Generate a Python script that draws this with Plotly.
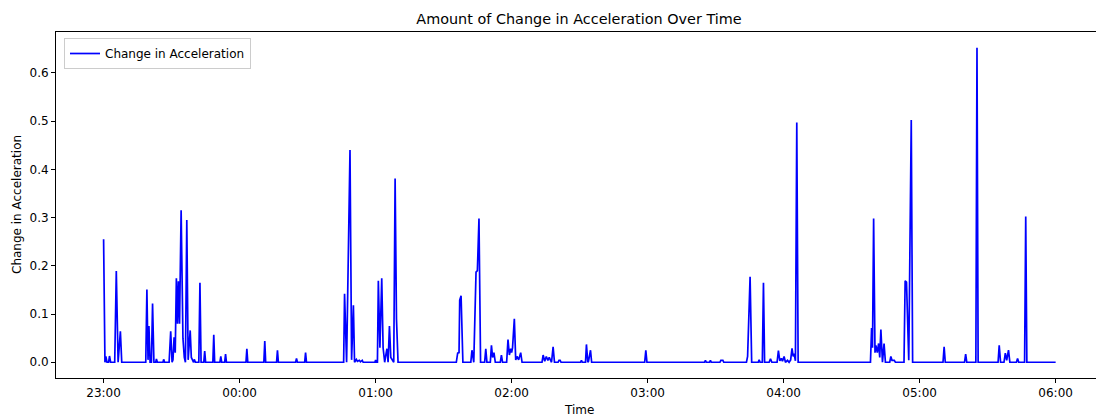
import pandas as pd
import plotly.graph_objects as go

# Minutes after 23:00 (start of recording) and the change in acceleration
minutes = [
    0.0, 0.6, 1.0, 1.5, 2.2, 2.6, 3.1, 4.9, 5.6, 6.4, 7.4, 8.0,
    18.6, 19.1, 19.6, 20.0, 20.5, 21.1, 21.6, 22.2, 23.0, 23.3, 23.7, 26.2, 26.5, 26.9,
    28.9, 29.6, 30.2, 30.6, 31.1, 31.6, 32.1, 32.6, 33.0, 33.5, 34.2, 35.0, 35.6, 36.1,
    36.7, 37.3, 38.2, 38.7, 39.2, 39.7, 40.0, 40.5,
    42.0, 42.5, 43.0, 44.2, 44.6, 45.0, 48.2, 48.6, 49.0, 51.3, 51.7, 52.1, 53.4, 53.8, 54.2,
    62.8, 63.2, 63.6,
    70.7, 71.1, 71.5, 76.3, 76.7, 77.1, 84.7, 85.1, 85.5, 88.7, 89.1, 89.5,
    105.9, 106.3, 107.2, 108.7, 109.4, 110.2, 110.7, 111.5, 112.0, 112.8, 113.3, 114.1, 114.5,
    119.7, 120.0, 120.3, 120.8, 121.2, 121.9, 122.7, 123.3, 124.0, 124.5, 125.0, 125.5,
    126.1, 126.7, 127.3, 128.0, 128.6, 129.2, 129.9,
    155.6, 156.2, 156.8, 157.1, 157.7, 158.5, 162.0, 162.5, 163.3, 164.3, 164.9, 165.6, 166.3,
    168.1, 168.6, 169.1, 170.6, 171.1, 171.6, 172.2, 172.8, 175.0, 175.5, 176.0,
    177.8, 178.4, 179.0, 179.6, 180.0, 180.4, 181.2, 181.8, 182.4, 183.1, 184.0, 184.6,
    193.4, 193.9, 194.6, 195.3, 196.0, 196.6, 197.6, 198.3, 198.9, 200.5, 200.9, 201.4, 201.8,
    210.4, 210.8, 211.2, 212.6, 213.0, 213.6, 213.9, 214.8, 215.3,
    238.7, 239.2, 239.7,
    265.1, 265.5, 265.9, 267.3, 267.7, 268.1, 271.9, 272.3, 273.2, 273.6,
    283.6, 284.1, 285.2, 285.9, 288.8, 289.2, 289.6, 290.6, 291.1, 291.6, 293.6, 294.2, 294.8,
    297.1, 297.7, 298.3, 299.0, 299.5, 300.2, 300.8, 301.7, 302.4, 303.1, 303.7, 304.2, 304.6,
    305.2, 305.8, 306.4,
    338.3, 338.8, 339.2, 339.7, 340.3, 340.7, 341.3, 341.9, 342.4, 342.9, 343.6, 344.3, 344.9,
    346.8, 347.3, 347.8, 348.8, 349.3,
    353.1, 353.6, 354.2, 355.2, 356.3, 356.9,
    370.3, 370.8, 371.3, 379.8, 380.3, 380.8, 384.8, 385.3, 385.8,
    394.6, 395.1, 395.7, 397.2, 397.8, 398.4, 399.2, 399.8, 402.7, 403.2, 403.7,
    406.3, 406.8, 407.3, 420.0,
]
change = [
    0.255, 0.0, 0.012, 0.0, 0.0, 0.013, 0.0, 0.0, 0.189, 0.0, 0.064, 0.0,
    0.0, 0.151, 0.005, 0.075, 0.0, 0.0, 0.122, 0.0, 0.0, 0.007, 0.0, 0.0, 0.006, 0.0,
    0.0, 0.064, 0.0, 0.005, 0.052, 0.02, 0.174, 0.08, 0.168, 0.08, 0.315, 0.05, 0.01, 0.0,
    0.295, 0.005, 0.066, 0.01, 0.005, 0.0, 0.006, 0.0,
    0.0, 0.165, 0.0, 0.0, 0.023, 0.0, 0.0, 0.057, 0.0, 0.0, 0.012, 0.0, 0.0, 0.017, 0.0,
    0.0, 0.028, 0.0,
    0.0, 0.044, 0.0, 0.0, 0.025, 0.0, 0.0, 0.008, 0.0, 0.0, 0.020, 0.0,
    0.0, 0.142, 0.0, 0.44, 0.005, 0.118, 0.0, 0.006, 0.002, 0.004, 0.001, 0.004, 0.0,
    0.0, 0.005, 0.0, 0.0, 0.169, 0.03, 0.174, 0.03, 0.0, 0.015, 0.028, 0.0,
    0.075, 0.01, 0.005, 0.0, 0.381, 0.09, 0.0,
    0.0, 0.019, 0.02, 0.129, 0.138, 0.0, 0.0, 0.025, 0.0, 0.187, 0.19, 0.298, 0.0,
    0.0, 0.028, 0.0, 0.0, 0.035, 0.01, 0.02, 0.0, 0.0, 0.015, 0.0,
    0.0, 0.047, 0.015, 0.028, 0.02, 0.03, 0.09, 0.005, 0.012, 0.005, 0.02, 0.0,
    0.0, 0.015, 0.002, 0.012, 0.004, 0.01, 0.0, 0.032, 0.0, 0.0, 0.004, 0.004, 0.0,
    0.0, 0.004, 0.0, 0.0, 0.037, 0.0, 0.002, 0.025, 0.0,
    0.0, 0.025, 0.0,
    0.0, 0.004, 0.0, 0.0, 0.004, 0.0, 0.0, 0.004, 0.004, 0.0,
    0.0, 0.012, 0.177, 0.0, 0.0, 0.005, 0.0, 0.0, 0.165, 0.0, 0.0, 0.007, 0.0,
    0.0, 0.024, 0.003, 0.008, 0.002, 0.012, 0.0, 0.004, 0.0, 0.005, 0.029, 0.012, 0.018,
    0.003, 0.497, 0.0,
    0.0, 0.071, 0.03, 0.298, 0.02, 0.035, 0.02, 0.039, 0.01, 0.068, 0.0, 0.039, 0.0,
    0.0, 0.012, 0.004, 0.004, 0.0,
    0.0, 0.169, 0.166, 0.004, 0.502, 0.0,
    0.0, 0.032, 0.0, 0.0, 0.017, 0.0, 0.0, 0.652, 0.0,
    0.0, 0.035, 0.0, 0.0, 0.019, 0.004, 0.025, 0.0, 0.0, 0.008, 0.0,
    0.0, 0.302, 0.0, 0.0,
]

start = pd.Timestamp("2024-01-01 23:00:00")
times = [start + pd.Timedelta(minutes=m) for m in minutes]
tick_vals = [start + pd.Timedelta(hours=h) for h in range(8)]
tick_text = ["23:00", "00:00", "01:00", "02:00", "03:00", "04:00", "05:00", "06:00"]
y_ticks = [0.0, 0.1, 0.2, 0.3, 0.4, 0.5, 0.6]

W, H = 1096, 416
L, R, T, B = 56, 0, 32, 38
font = "DejaVu Sans, Arial, sans-serif"

fig = go.Figure()
fig.add_trace(go.Scatter(
    x=times, y=change, mode="lines", name="Change in Acceleration",
    line=dict(color="#0000ff", width=1.7),
))

x0 = start - pd.Timedelta(minutes=21)
x1 = start + pd.Timedelta(minutes=437.8)

fig.update_layout(
    width=W, height=H,
    margin=dict(l=L, r=R, t=T, b=B),
    paper_bgcolor="white", plot_bgcolor="white",
    font=dict(family=font, size=12, color="#000000"),
    title=dict(text="Amount of Change in Acceleration Over Time",
               font=dict(size=14.4, color="#000000"),
               x=579 / W, xref="container", xanchor="center",
               y=1 - 19 / H, yref="container", yanchor="middle"),
    showlegend=True,
    legend=dict(x=(64 - L) / (W - L - R), y=1 - (38 - T) / (H - T - B),
                xanchor="left", yanchor="top",
                bordercolor="#cccccc", borderwidth=1,
                bgcolor="rgba(255,255,255,0.8)",
                font=dict(size=12, color="#000000")),
    xaxis=dict(range=[x0, x1], tickvals=tick_vals, ticktext=tick_text,
               showgrid=False, zeroline=False,
               showline=True, linecolor="#000000", linewidth=1, mirror=True,
               ticks="outside", ticklen=4, tickcolor="#000000", tickwidth=1,
               tickfont=dict(size=12, color="#000000")),
    yaxis=dict(range=[-0.0326, 0.6846], tickvals=y_ticks, tickformat=".1f",
               showgrid=False, zeroline=False,
               showline=True, linecolor="#000000", linewidth=1, mirror=False,
               ticks="outside", ticklen=4, tickcolor="#000000", tickwidth=1,
               tickfont=dict(size=12, color="#000000")),
    annotations=[
        dict(text="Time", xref="paper", yref="paper",
             x=(579 - L) / (W - L - R), y=-(410 - (H - B)) / (H - T - B),
             xanchor="center", yanchor="middle", showarrow=False,
             font=dict(size=12, color="#000000")),
        dict(text="Change in Acceleration", xref="paper", yref="paper",
             x=(17 - L) / (W - L - R), y=0.5, textangle=-90,
             xanchor="center", yanchor="middle", showarrow=False,
             font=dict(size=12, color="#000000")),
    ],
)

fig.write_html("out.html",
               config={"displayModeBar": False},
               post_script="document.body.style.margin='0';document.body.style.overflow='hidden';")
